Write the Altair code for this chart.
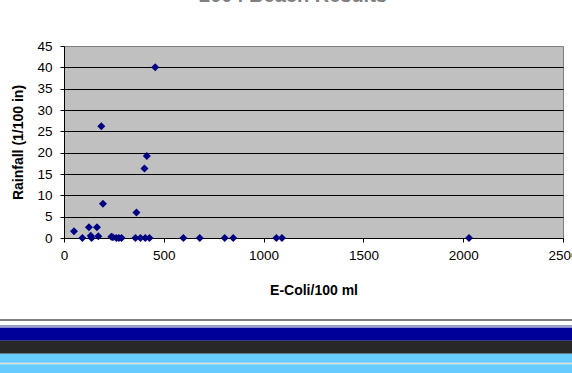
import altair as alt
import pandas as pd

# Data
ecoli = [50, 92, 125, 134, 138, 165, 172, 187, 195, 237, 245, 262, 275, 288,
         358, 363, 383, 403, 407, 415, 428, 457, 598, 680, 805, 848, 1064, 1092, 2029]
rain = [1.6, 0, 2.5, 0.5, 0, 2.5, 0.4, 26.2, 8.0, 0.3, 0.2, 0, 0, 0,
        0, 6.0, 0, 16.3, 0, 19.2, 0, 40.0, 0, 0, 0, 0, 0, 0, 0]
x_ticks = [0, 500, 1000, 1500, 2000, 2500]
y_ticks = [0, 5, 10, 15, 20, 25, 30, 35, 40, 45]
title_text = "2004 Beach Results"

df = pd.DataFrame({"ecoli": ecoli, "rain": rain})
one = pd.DataFrame({"k": [0]})

FONT = "Liberation Sans"

points = alt.Chart(df).mark_point(
    shape="diamond", filled=True, size=64, color="#000080", opacity=1
).encode(
    x=alt.X("ecoli:Q",
            scale=alt.Scale(domain=[0, 2500], nice=False, zero=True),
            axis=alt.Axis(values=x_ticks, format="d", title="E-Coli/100 ml", grid=False,
                          labelFlush=False, tickSize=4, domainColor="black",
                          tickColor="black", labelColor="black", labelFont=FONT,
                          labelFontSize=13.5, labelPadding=6,
                          titleFont=FONT, titleFontSize=14, titleFontWeight="bold",
                          titleColor="black", titleY=52, titleBaseline="middle")),
    y=alt.Y("rain:Q",
            scale=alt.Scale(domain=[0, 45], nice=False),
            axis=alt.Axis(values=y_ticks, format="d", title="Rainfall (1/100 in)", grid=True,
                          gridColor={"condition": {"test": "datum.value === 45", "value": "#808080"},
                                     "value": "black"},
                          gridOpacity=1, gridWidth=1,
                          tickSize=4, domainColor="black", tickColor="black",
                          labelColor="black", labelFont=FONT, labelFontSize=13.5,
                          labelPadding=8,
                          titleFont=FONT, titleFontSize=14, titleFontWeight="bold",
                          titleColor="black", titleX=-46, titleY=96,
                          titleAngle=-90, titleBaseline="middle", titleAlign="center")),
)

title = alt.Chart(one).mark_text(
    font=FONT, fontSize=20, fontWeight="bold", color="#808080",
    baseline="alphabetic", align="center"
).encode(x=alt.value(229), y=alt.value(-44), text=alt.value(title_text))

# decorative bands at the bottom (absolute y minus top padding 46)
bands = [
    (273.0, 275.0, "#808080"),
    (279.5, 280.5, "#3a3a9a"),
    (280.5, 281.7, "#a0a0c8"),
    (281.7, 294.7, "#000099"),
    (294.7, 307.7, "#282828"),
    (307.7, 316.7, "#66ccff"),
    (316.7, 317.7, "#c0c0c0"),
    (317.7, 318.3, "#ffffff"),
    (318.3, 327.0, "#66ccff"),
]
band_layers = [
    alt.Chart(one).mark_rect(color=c, strokeWidth=0).encode(
        x=alt.value(-64), x2=alt.value(508), y=alt.value(y1), y2=alt.value(y2))
    for (y1, y2, c) in bands
]

chart = alt.layer(*band_layers, points, title).properties(
    width=499, height=192,
    autosize=alt.AutoSizeParams(type="none"),
    padding={"left": 64, "top": 46, "right": 9, "bottom": 135},
    background="white",
).configure_view(
    fill="#c0c0c0", stroke="#808080", strokeWidth=1
)

chart.save("out.html", embed_options={"renderer": "svg", "actions": False})
